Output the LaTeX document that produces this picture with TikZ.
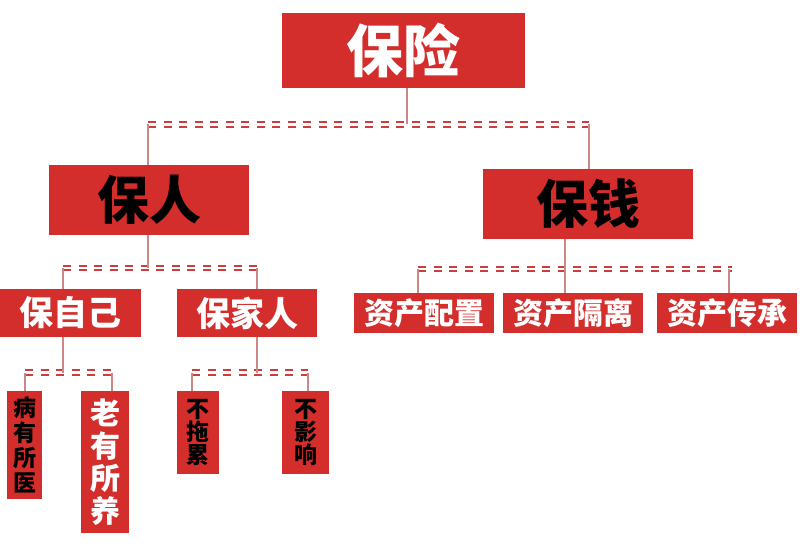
\documentclass[tikz,border=0pt]{standalone}
\usepackage{fontspec}
\setmainfont{Noto Sans CJK SC}
\usetikzlibrary{calc}
\definecolor{boxred}{RGB}{212,46,44}
\definecolor{linkpink}{RGB}{204,135,135}
\definecolor{barred}{RGB}{204,62,62}

\begin{document}
\begin{tikzpicture}[x=1pt,y=-1pt,
  box/.style={fill=boxred,inner sep=0pt,align=center},
  link/.style={draw=linkpink,line width=1.8pt},
  bar/.style={draw=barred,line width=2pt,dash pattern=on 8pt off 7.5pt,double=white,double distance=2.4pt}]
  \useasboundingbox (0,0) rectangle (800,545);
  % level 0 and 1
  \node[box,minimum width=243pt,minimum height=75pt,text=white,font=\bfseries\fontsize{57}{60}\selectfont] (bx) at (403.5,50.5) {保险};
  \node[box,minimum width=200pt,minimum height=70pt,font=\bfseries\fontsize{52}{56}\selectfont] (ren) at (149,200) {保人};
  \node[box,minimum width=210pt,minimum height=70pt,font=\bfseries\fontsize{52}{56}\selectfont] (qian) at (588,204) {保钱};
  % level 2
  \node[box,minimum width=141pt,minimum height=48pt,text=white,font=\bfseries\fontsize{34}{36}\selectfont] (zj) at (70.5,313) {保自己};
  \node[box,minimum width=140pt,minimum height=48pt,text=white,font=\bfseries\fontsize{34}{36}\selectfont] (jr) at (247,313) {保家人};
  \node[box,minimum width=140pt,minimum height=40pt,text=white,font=\bfseries\fontsize{30}{32}\selectfont] (pz) at (424,313) {资产配置};
  \node[box,minimum width=140pt,minimum height=40pt,text=white,font=\bfseries\fontsize{30}{32}\selectfont] (gl) at (573,313) {资产隔离};
  \node[box,minimum width=140pt,minimum height=40pt,text=white,font=\bfseries\fontsize{30}{32}\selectfont] (cc) at (727,313) {资产传承};
  % level 3 (vertical text)
  \node[box,minimum width=35pt,minimum height=108pt,font=\bfseries\fontsize{23}{25}\selectfont] (by) at (24.5,445) {病\\有\\所\\医};
  \node[box,minimum width=48pt,minimum height=142pt,text=white,font=\bfseries\fontsize{30}{32.5}\selectfont] (ly) at (105,462) {老\\有\\所\\养};
  \node[box,minimum width=42pt,minimum height=83pt,font=\bfseries\fontsize{23}{23}\selectfont] (tl) at (198,432.5) {不\\拖\\累};
  \node[box,minimum width=47pt,minimum height=83pt,font=\bfseries\fontsize{23}{23}\selectfont] (yx) at (305.5,432.5) {不\\影\\响};
  % bars
  \coordinate (b0l) at (148,124.5); \coordinate (b0m) at (407,124.5); \coordinate (b0r) at (589,124.5);
  \coordinate (b1l) at (63,268);    \coordinate (b1m) at (148,268);   \coordinate (b1r) at (257,268);
  \coordinate (b2l) at (418,269);   \coordinate (b2m) at (565,269);   \coordinate (b2r) at (729,269);
  \coordinate (b3l) at (25,372.5);  \coordinate (b3m) at (63,372.5);  \coordinate (b3r) at (112,372.5);
  \coordinate (b4l) at (192,372.5); \coordinate (b4m) at (257,372.5); \coordinate (b4r) at (308,372.5);
  \draw[bar] (b0l) -- (b0r);
  \draw[bar] (b1l) -- (b1r);
  \draw[bar] (b2l) -- ($(b2r)+(3,0)$);
  \draw[bar] (b3l) -- (b3r);
  \draw[bar] (b4l) -- (b4r);
  % links
  \draw[link] (b0m |- bx.south) -- (b0m);
  \draw[link] (b0l) -- (b0l |- ren.north);
  \draw[link] (b0r) -- (b0r |- qian.north);
  \draw[link] (b1m |- ren.south) -- (b1m);
  \draw[link] (b1l) -- (b1l |- zj.north);
  \draw[link] (b1r) -- (b1r |- jr.north);
  \draw[link] (b2m |- qian.south) -- (b2m);
  \draw[link] (b2l) -- (b2l |- pz.north);
  \draw[link] (b2m) -- (b2m |- gl.north);
  \draw[link] (b2r) -- (b2r |- cc.north);
  \draw[link] (b3m |- zj.south) -- (b3m);
  \draw[link] (b3l) -- (b3l |- by.north);
  \draw[link] (b3r) -- (b3r |- ly.north);
  \draw[link] (b4m |- jr.south) -- (b4m);
  \draw[link] (b4l) -- (b4l |- tl.north);
  \draw[link] (b4r) -- (b4r |- yx.north);
\end{tikzpicture}
\end{document}
